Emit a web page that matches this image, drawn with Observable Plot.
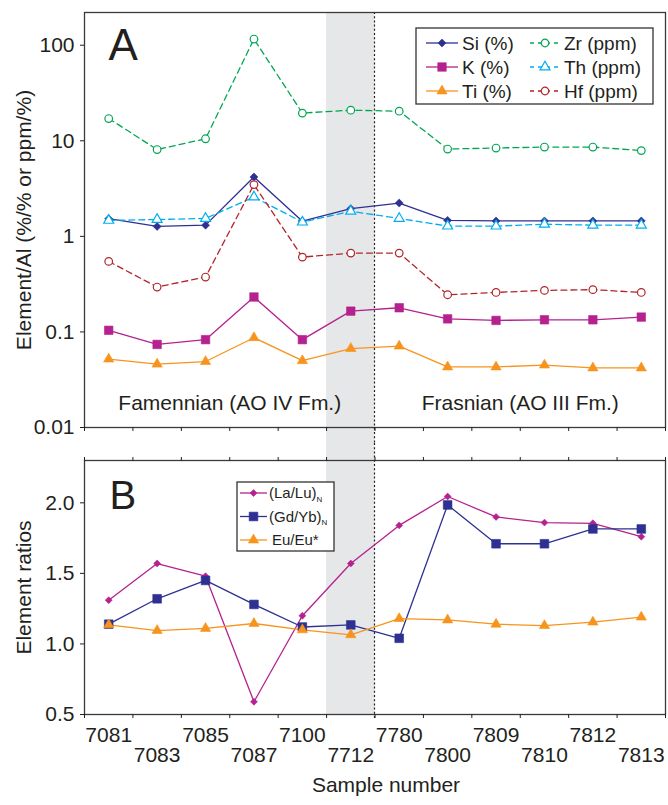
<!DOCTYPE html>
<html>
<head>
<meta charset="utf-8">
<script src="https://cdn.jsdelivr.net/npm/d3@7"></script>
<script src="https://cdn.jsdelivr.net/npm/@observablehq/plot@0.6"></script>
<style>
  html, body { margin: 0; padding: 0; background: #fff; }
  #chart svg { display: block; }
</style>
</head>
<body>
<div id="chart"></div>
<script>
// ---------- data ----------
const samples = ["7081","7083","7085","7087","7100","7712","7780","7800","7809","7810","7812","7813"];
const shadedSample = "7712";

// Panel A: element / Al ratios
const si = [1.53, 1.27, 1.31, 4.18, 1.44, 1.95, 2.23, 1.47, 1.45, 1.45, 1.45, 1.45];
const k  = [0.104, 0.074, 0.083, 0.232, 0.083, 0.165, 0.179, 0.137, 0.132, 0.134, 0.134, 0.143];
const ti = [0.052, 0.046, 0.049, 0.087, 0.050, 0.067, 0.071, 0.043, 0.043, 0.045, 0.042, 0.042];
const zr = [17.1, 8.1, 10.5, 116, 19.5, 20.9, 20.4, 8.2, 8.4, 8.6, 8.6, 7.9];
const th = [1.47, 1.50, 1.54, 2.58, 1.41, 1.83, 1.54, 1.28, 1.28, 1.34, 1.31, 1.31];
const hf = [0.547, 0.295, 0.375, 3.48, 0.607, 0.668, 0.668, 0.245, 0.259, 0.272, 0.277, 0.259];

// Panel B: element ratios
const laLu = [1.31, 1.57, 1.48, 0.59, 1.20, 1.57, 1.84, 2.045, 1.90, 1.86, 1.855, 1.76];
const gdYb = [1.14, 1.32, 1.45, 1.28, 1.12, 1.135, 1.04, 1.985, 1.71, 1.71, 1.815, 1.815];
const euEu = [1.135, 1.095, 1.11, 1.145, 1.10, 1.065, 1.18, 1.17, 1.14, 1.13, 1.155, 1.19];

const yTicksA = [0.01, 0.1, 1, 10, 100];
const yTicksB = [0.5, 1.0, 1.5, 2.0];
const periodLabels = ["Famennian (AO IV Fm.)", "Frasnian (AO III Fm.)"];

// ---------- styles ----------
const FONT = "'Liberation Sans', Arial, Helvetica, sans-serif";
const INK = "#231f20";
const NAVY = "#2e3192", MAGENTA = "#b5218e", ORANGE = "#f7941d",
      GREEN = "#00a651", CYAN = "#00aeef", RED = "#b2252b";

const seriesA = [
  {name: "Si (%)",    values: si, color: NAVY,    symbol: "diamond2", r: 3.6, open: false, dash: null},
  {name: "K (%)",     values: k,  color: MAGENTA, symbol: "square",   r: 4.8, open: false, dash: null},
  {name: "Ti (%)",    values: ti, color: ORANGE,  symbol: "triangle", r: 3.8, open: false, dash: null},
  {name: "Zr (ppm)",  values: zr, color: GREEN,   symbol: "circle",   r: 3.8, open: true,  dash: "6,4"},
  {name: "Th (ppm)",  values: th, color: CYAN,    symbol: "triangle", r: 3.7, open: true,  dash: "6,4"},
  {name: "Hf (ppm)",  values: hf, color: RED,     symbol: "circle",   r: 3.8, open: true,  dash: "6,4"}
];
const seriesB = [
  {name: "(La/Lu)", sub: "N", values: laLu, color: MAGENTA, symbol: "diamond2", r: 3.1, open: false, dash: null},
  {name: "(Gd/Yb)", sub: "N", values: gdYb, color: NAVY,    symbol: "square",   r: 4.9, open: false, dash: null},
  {name: "Eu/Eu*",  sub: "",  values: euEu, color: ORANGE,  symbol: "triangle", r: 3.8, open: false, dash: null}
];

const symbolTypes = {
  "diamond2": d3.symbolDiamond2, "square": d3.symbolSquare,
  "triangle": d3.symbolTriangle, "circle": d3.symbolCircle
};

const shadeIdx = samples.indexOf(shadedSample);
const toRows = (s) => s.values.map((v, i) => ({i, sample: samples[i], value: v}));

function seriesMarks(series) {
  const marks = [];
  for (const s of series) {
    const rows = toRows(s);
    marks.push(Plot.line(rows, {
      x: d => d.i + 0.5, y: "value", stroke: s.color, strokeWidth: 1.3,
      strokeDasharray: s.dash || undefined
    }));
  }
  for (const s of series) {
    const rows = toRows(s);
    marks.push(Plot.dot(rows, {
      x: d => d.i + 0.5, y: "value", symbol: s.symbol, r: s.r,
      fill: s.open ? "white" : s.color,
      stroke: s.color, strokeWidth: s.open ? 1.2 : 0.6
    }));
  }
  return marks;
}

// shaded band + dotted boundary, spanning the given vertical extent
function bandMark(top, bottom, lineBottom) {
  return (index, scales, values, dims) => {
    const x = scales.x;
    const g = d3.create("svg:g");
    const y0 = top(dims), y1 = bottom(dims);
    g.append("rect")
      .attr("x", x(shadeIdx)).attr("width", x(shadeIdx + 1) - x(shadeIdx))
      .attr("y", y0).attr("height", y1 - y0)
      .attr("fill", "#e6e7e8");
    g.append("line")
      .attr("x1", x(shadeIdx + 1)).attr("x2", x(shadeIdx + 1))
      .attr("y1", y0).attr("y2", lineBottom(dims))
      .attr("stroke", INK).attr("stroke-width", 1.2).attr("stroke-dasharray", "2,2.2");
    return g.node();
  };
}

function symbolPath(s) {
  return d3.symbol(symbolTypes[s.symbol], Math.PI * s.r * s.r)();
}

// legend for panel A (two columns, inside top-right of frame)
function legendA() {
  return (index, scales, values, dims) => {
    const g = d3.create("svg:g").attr("font-family", FONT).attr("text-anchor", "start");
    const w = 237, h = 76;
    const x0 = dims.width - dims.marginRight - 12 - w;
    const y0 = dims.marginTop + 16;
    g.append("rect").attr("x", x0).attr("y", y0).attr("width", w).attr("height", h)
      .attr("fill", "white").attr("stroke", "#333").attr("stroke-width", 1.3);
    seriesA.forEach((s, j) => {
      const col = Math.floor(j / 3), row = j % 3;
      const cy = y0 + 15 + row * 24;
      const lx0 = x0 + (col ? 114 : 10), lx1 = x0 + (col ? 144 : 42);
      const mx = (lx0 + lx1) / 2;
      g.append("line").attr("x1", lx0).attr("x2", lx1).attr("y1", cy).attr("y2", cy)
        .attr("stroke", s.color).attr("stroke-width", 1.3)
        .attr("stroke-dasharray", s.dash ? "4,4" : null);
      g.append("path").attr("d", symbolPath(s)).attr("transform", `translate(${mx},${cy})`)
        .attr("fill", s.open ? "white" : s.color).attr("stroke", s.color)
        .attr("stroke-width", s.open ? 1.2 : 0.6);
      g.append("text").attr("x", lx1 + 4).attr("y", cy).attr("dy", "0.35em")
        .attr("text-anchor", "start")
        .attr("font-size", 19).attr("fill", INK).text(s.name);
    });
    return g.node();
  };
}

// legend for panel B (single column, with subscripts)
function legendB() {
  return (index, scales, values, dims) => {
    const g = d3.create("svg:g").attr("font-family", FONT).attr("text-anchor", "start");
    const w = 97, h = 69;
    const x0 = dims.marginLeft + 153;
    const y0 = dims.marginTop + 22;
    g.append("rect").attr("x", x0).attr("y", y0).attr("width", w).attr("height", h)
      .attr("fill", "white").attr("stroke", "#333").attr("stroke-width", 1.3);
    seriesB.forEach((s, j) => {
      const cy = y0 + 11 + j * 23.5;
      const lx0 = x0 + 3, lx1 = x0 + 30, mx = (lx0 + lx1) / 2;
      g.append("line").attr("x1", lx0).attr("x2", lx1).attr("y1", cy).attr("y2", cy)
        .attr("stroke", s.color).attr("stroke-width", 1.3);
      g.append("path").attr("d", symbolPath(s)).attr("transform", `translate(${mx},${cy})`)
        .attr("fill", s.color).attr("stroke", s.color).attr("stroke-width", 0.6);
      const t = g.append("text").attr("x", lx1 + (s.sub ? 2 : 5)).attr("y", cy).attr("dy", "0.35em")
        .attr("text-anchor", "start")
        .attr("font-size", 15).attr("fill", INK).text(s.name);
      if (s.sub) t.append("tspan").attr("font-size", 8).attr("dy", "0.45em").text(s.sub);
    });
    return g.node();
  };
}

const baseStyle = {fontFamily: FONT, fontSize: "21px", color: INK, background: "white", overflow: "visible"};
const n = samples.length;

// ---------- Panel A ----------
const plotA = Plot.plot({
  width: 668, height: 443,
  marginLeft: 84, marginRight: 3, marginTop: 12, marginBottom: 16,
  style: baseStyle,
  x: {domain: [0, n]},
  y: {type: "log", domain: [0.01, 220]},
  marks: [
    bandMark(d => d.marginTop, d => d.height, d => d.height),
    ...seriesMarks(seriesA),
    Plot.frame({stroke: "#3a3a3a", strokeWidth: 1.3}),
    Plot.axisY({ticks: yTicksA, tickFormat: d => String(d), tickSize: 4, tickPadding: 6, fontSize: 21, label: null}),
    Plot.axisX({anchor: "bottom", ticks: d3.range(n + 1), tickSize: 4, tickFormat: () => "", label: null}),
    Plot.text(["Element/Al (%/% or ppm/%)"], {frameAnchor: "left", dx: -60, rotate: -90, textAnchor: "middle", lineAnchor: "middle", fontSize: 21, fill: INK}),
    Plot.text(["A"], {frameAnchor: "top-left", dx: 24, dy: 16, lineAnchor: "top", textAnchor: "start", fontSize: 44, fill: INK}),
    Plot.text(periodLabels, {x: (d, i) => (i === 0 ? 3 : 9), frameAnchor: "bottom", dy: -24, lineAnchor: "middle", fontSize: 21, fill: INK}),
    legendA()
  ]
});

// ---------- Panel B ----------
const plotB = Plot.plot({
  width: 668, height: 362,
  marginLeft: 84, marginRight: 3, marginTop: 17, marginBottom: 91,
  style: baseStyle,
  x: {domain: [0, n]},
  y: {domain: [0.5, 2.3]},
  marks: [
    bandMark(d => 0, d => d.height - d.marginBottom, d => d.height - d.marginBottom + 4),
    ...seriesMarks(seriesB),
    Plot.frame({stroke: "#3a3a3a", strokeWidth: 1.3}),
    Plot.axisY({ticks: yTicksB, tickFormat: d3.format(".1f"), tickSize: 4, tickPadding: 6, fontSize: 21, label: null}),
    Plot.axisX({anchor: "top", ticks: d3.range(n + 1), tickSize: 4, tickFormat: () => "", label: null}),
    Plot.axisX({anchor: "bottom", ticks: d3.range(n + 1), tickSize: 4, tickFormat: () => "", label: null}),
    Plot.text(samples, {x: (d, i) => i + 0.5, filter: (d, i) => i % 2 === 0, frameAnchor: "bottom", dy: 21, lineAnchor: "middle", fontSize: 21, fill: INK}),
    Plot.text(samples, {x: (d, i) => i + 0.5, filter: (d, i) => i % 2 === 1, frameAnchor: "bottom", dy: 41, lineAnchor: "middle", fontSize: 21, fill: INK}),
    Plot.text(["Sample number"], {frameAnchor: "bottom", dx: 11, dy: 71, lineAnchor: "middle", fontSize: 21, fill: INK}),
    Plot.text(["Element ratios"], {frameAnchor: "left", dx: -60, rotate: -90, textAnchor: "middle", lineAnchor: "middle", fontSize: 21, fill: INK}),
    Plot.text(["B"], {frameAnchor: "top-left", dx: 25, dy: 20, lineAnchor: "top", textAnchor: "start", fontSize: 40, fill: INK}),
    legendB()
  ]
});

const chart = document.getElementById("chart");
chart.appendChild(plotA);
chart.appendChild(plotB);
</script>
</body>
</html>
